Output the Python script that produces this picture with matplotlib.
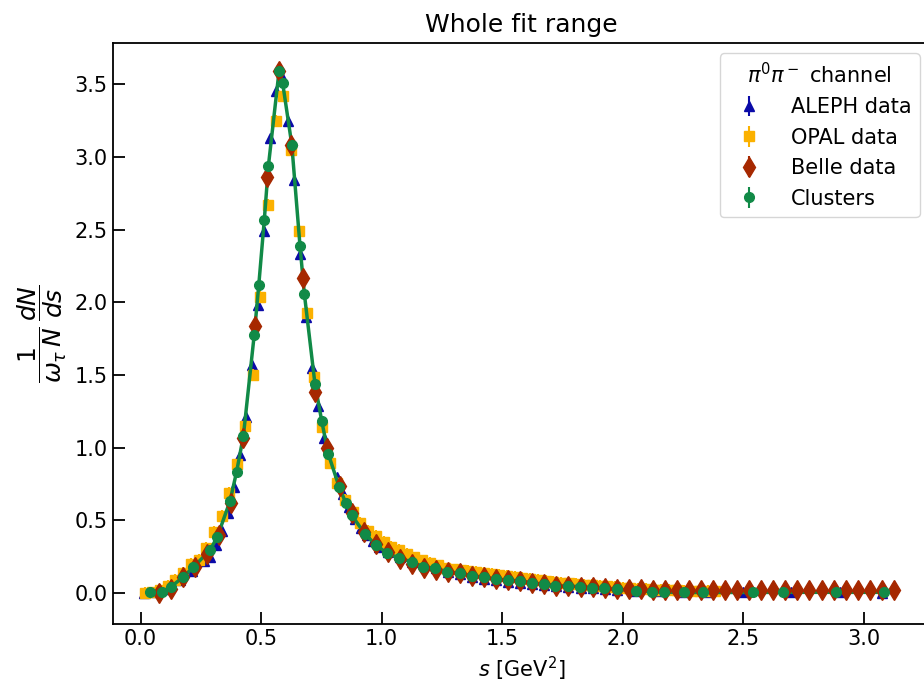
import matplotlib
matplotlib.use("Agg")
import matplotlib.pyplot as plt

# ALEPH data
aleph_s = [0.0125, 0.0625, 0.1125, 0.1625, 0.2125, 0.2625, 0.2875, 0.3125, 0.3375, 0.3625,
           0.3875, 0.4125, 0.4375, 0.4625, 0.4875, 0.5125, 0.5375, 0.5625, 0.5875, 0.6125,
           0.6375, 0.6625, 0.6875, 0.7125, 0.7375, 0.7625, 0.7875, 0.8125, 0.8375, 0.8625,
           0.8875, 0.9125, 0.9375, 0.9625, 0.9875, 1.025, 1.075, 1.125, 1.175, 1.225,
           1.275, 1.325, 1.375, 1.425, 1.475, 1.525, 1.575, 1.625, 1.675, 1.725,
           1.775, 1.825, 1.875, 1.925, 1.975, 2.05, 2.15, 2.25, 2.35, 2.5,
           2.7, 2.9, 3.075]
aleph_v = [0.0, 0.01, 0.03, 0.09, 0.15, 0.22, 0.25, 0.33, 0.43, 0.55,
           0.73, 0.95, 1.21, 1.57, 1.98, 2.49, 3.13, 3.455, 3.55, 3.25,
           2.84, 2.33, 1.90, 1.546, 1.287, 1.065, 0.92, 0.80, 0.68, 0.59,
           0.51, 0.45, 0.40, 0.36, 0.32, 0.28, 0.245, 0.215, 0.19, 0.17,
           0.145, 0.128, 0.112, 0.098, 0.087, 0.079, 0.072, 0.063, 0.054, 0.046,
           0.042, 0.037, 0.032, 0.027, 0.022, 0.017, 0.012, 0.008, 0.006, 0.005,
           0.004, 0.004, 0.0]
aleph_err = 0.02

# OPAL data
opal_s = [0.016, 0.048, 0.080, 0.112, 0.144, 0.176, 0.208, 0.240, 0.272, 0.304,
          0.336, 0.368, 0.400, 0.432, 0.464, 0.496, 0.528, 0.560, 0.592, 0.624,
          0.656, 0.688, 0.720, 0.752, 0.784, 0.816, 0.848, 0.880, 0.912, 0.944,
          0.976, 1.008, 1.040, 1.072, 1.104, 1.136, 1.168, 1.200, 1.232, 1.264,
          1.296, 1.328, 1.360, 1.392, 1.424, 1.456, 1.488, 1.520, 1.552, 1.584,
          1.616, 1.648, 1.680, 1.712, 1.744, 1.776, 1.808, 1.840, 1.872, 1.904,
          1.936, 1.968, 2.000, 2.032, 2.064, 2.096, 2.128, 2.160, 2.192, 2.224,
          2.256, 2.288, 2.320, 2.352, 2.384]
opal_v = [0.0, 0.005, 0.02, 0.05, 0.09, 0.14, 0.20, 0.23, 0.31, 0.42,
          0.53, 0.69, 0.885, 1.15, 1.50, 2.04, 2.67, 3.25, 3.42, 3.05,
          2.49, 1.925, 1.49, 1.145, 0.897, 0.76, 0.64, 0.56, 0.484, 0.43,
          0.392, 0.35, 0.32, 0.296, 0.27, 0.245, 0.225, 0.205, 0.19, 0.17,
          0.163, 0.158, 0.152, 0.145, 0.137, 0.13, 0.123, 0.117, 0.112, 0.106,
          0.10, 0.093, 0.085, 0.078, 0.072, 0.067, 0.062, 0.058, 0.054, 0.05,
          0.046, 0.042, 0.038, 0.034, 0.03, 0.027, 0.024, 0.022, 0.02, 0.018,
          0.017, 0.016, 0.015, 0.014, 0.013]
opal_err = 0.04

# Belle data
belle_s = [0.075, 0.125, 0.175, 0.225, 0.275, 0.325, 0.375, 0.425, 0.475, 0.525,
           0.575, 0.625, 0.675, 0.725, 0.775, 0.825, 0.875, 0.925, 0.975, 1.025,
           1.075, 1.125, 1.175, 1.225, 1.275, 1.325, 1.375, 1.425, 1.475, 1.525,
           1.575, 1.625, 1.675, 1.725, 1.775, 1.825, 1.875, 1.925, 1.975, 2.025,
           2.075, 2.125, 2.175, 2.225, 2.275, 2.325, 2.375, 2.425, 2.475, 2.525,
           2.575, 2.625, 2.675, 2.725, 2.775, 2.825, 2.875, 2.925, 2.975, 3.025,
           3.075, 3.125]
belle_v = [0.0, 0.03, 0.11, 0.18, 0.27, 0.40, 0.62, 1.07, 1.84, 2.86,
           3.59, 3.08, 2.17, 1.385, 0.996, 0.74, 0.55, 0.42, 0.34, 0.28,
           0.235, 0.20, 0.175, 0.16, 0.147, 0.135, 0.12, 0.108, 0.096, 0.089,
           0.083, 0.071, 0.06, 0.05, 0.048, 0.044, 0.039, 0.034, 0.03, 0.028,
           0.026, 0.024, 0.023, 0.022, 0.021, 0.02, 0.02, 0.019, 0.019, 0.018,
           0.018, 0.018, 0.018, 0.019, 0.019, 0.019, 0.02, 0.02, 0.021, 0.021,
           0.022, 0.023]
belle_err = 0.03

# Clusters
clus_s = [0.039, 0.090, 0.126, 0.177, 0.218, 0.288, 0.318, 0.371, 0.398, 0.426,
          0.471, 0.490, 0.513, 0.530, 0.574, 0.589, 0.627, 0.661, 0.679, 0.723,
          0.751, 0.778, 0.824, 0.852, 0.875, 0.931, 0.976, 1.021, 1.073, 1.124,
          1.173, 1.221, 1.272, 1.325, 1.376, 1.425, 1.474, 1.524, 1.572, 1.622,
          1.672, 1.721, 1.772, 1.823, 1.873, 1.921, 1.975, 2.054, 2.123, 2.171,
          2.256, 2.334, 2.539, 2.664, 2.884, 3.084]
clus_v = [0.005, 0.005, 0.043, 0.112, 0.177, 0.296, 0.387, 0.635, 0.835, 1.08,
          1.776, 2.12, 2.57, 2.94, 3.59, 3.51, 3.085, 2.39, 2.06, 1.44,
          1.186, 0.96, 0.727, 0.617, 0.537, 0.406, 0.33, 0.277, 0.239, 0.215,
          0.181, 0.17, 0.147, 0.135, 0.119, 0.108, 0.096, 0.089, 0.083, 0.071,
          0.060, 0.050, 0.048, 0.044, 0.038, 0.032, 0.025, 0.016, 0.010, 0.006,
          0.004, 0.004, 0.004, 0.005, 0.005, 0.005]
clus_err = 0.02

c_aleph = "#0a0aa8"
c_opal = "#fbb100"
c_belle = "#a62800"
c_clus = "#118a47"

fig = plt.figure(figsize=(9.24, 6.82), dpi=100)
ax = fig.add_subplot(111)
# the original is cut just left of the right spine
fig.subplots_adjust(left=0.122, right=1.0065, bottom=0.085, top=0.937)

ax.errorbar(aleph_s, aleph_v, yerr=aleph_err, fmt="^", color=c_aleph, ms=7,
            elinewidth=1.5, capsize=0, label="ALEPH data", zorder=2)
ax.errorbar(opal_s, opal_v, yerr=opal_err, fmt="s", color=c_opal, ms=6.5,
            elinewidth=1.5, capsize=0, label="OPAL data", zorder=3)
ax.plot(clus_s, clus_v, "-", color=c_clus, lw=2.5, zorder=3.5)
ax.errorbar(belle_s, belle_v, yerr=belle_err, fmt="d", color=c_belle, ms=10.5,
            elinewidth=1.5, capsize=0, label="Belle data", zorder=4)
ax.errorbar(clus_s, clus_v, yerr=clus_err, fmt="o", color=c_clus, ms=7,
            elinewidth=1.5, capsize=0, label="Clusters", zorder=5)

ax.set_xlim(-0.116, 3.275)
ax.set_ylim(-0.213, 3.785)
ax.set_title("Whole fit range", fontsize=18, pad=8)
ax.set_xlabel(r"$s$ [GeV$^2$]", fontsize=15)
ax.set_ylabel(r"$\dfrac{1}{\omega_\tau\, N}\, \dfrac{dN}{ds}$", fontsize=18)
ax.tick_params(direction="in", length=8.5, width=1.3, labelsize=15)
for sp in ax.spines.values():
    sp.set_linewidth(1.3)

leg = ax.legend(title=r"$\pi^0\pi^-$ channel", loc="upper right", fontsize=15,
                title_fontsize=15, borderaxespad=0.5, handletextpad=1.0)

fig.savefig("out.png", dpi=100)
